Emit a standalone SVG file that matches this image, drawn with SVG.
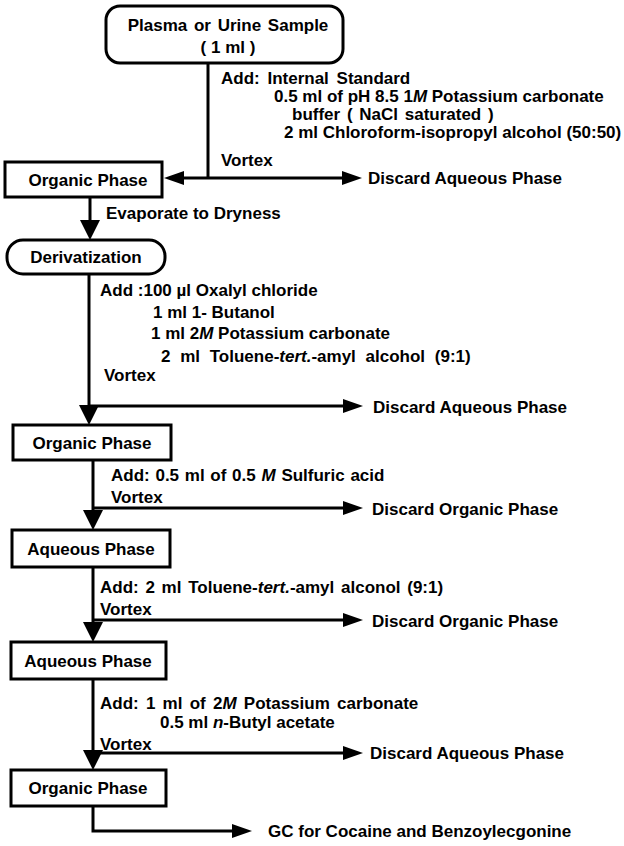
<svg xmlns="http://www.w3.org/2000/svg" width="624" height="846" viewBox="0 0 624 846">
<defs>
<style>
text{font-family:"Liberation Sans",Arial,Helvetica,sans-serif;font-size:17px;font-weight:bold;fill:#000}
.box{fill:#fff;stroke:#000;stroke-width:3}
.ln{fill:none;stroke:#000;stroke-width:3}
.c{text-anchor:middle}
.i{font-style:italic}
</style>
<marker id="ah" viewBox="0 0 20 14" refX="0" refY="7" markerWidth="20" markerHeight="14" markerUnits="userSpaceOnUse" orient="auto"><path d="M0,0 L20,7 L0,14 Z" fill="#000"/></marker>
<marker id="ad" viewBox="0 0 20 20" refX="0" refY="10" markerWidth="20" markerHeight="20" markerUnits="userSpaceOnUse" orient="auto"><path d="M0,0 L20,10 L0,20 Z" fill="#000"/></marker>
</defs>
<rect width="624" height="846" fill="#fff"/>
<g id="connectors">
<path class="ln" d="M208,63 V178"/>
<path class="ln" d="M208,178 H184" marker-end="url(#ah)"/>
<path class="ln" d="M208,178 H342" marker-end="url(#ah)"/>
<path class="ln" d="M90,197 V220" marker-end="url(#ad)"/>
<path class="ln" d="M89,274 V405" marker-end="url(#ad)"/>
<path class="ln" d="M89,406 H343" marker-end="url(#ah)"/>
<path class="ln" d="M93,460 V510" marker-end="url(#ad)"/>
<path class="ln" d="M93,508 H343" marker-end="url(#ah)"/>
<path class="ln" d="M93,567 V622" marker-end="url(#ad)"/>
<path class="ln" d="M93,620 H343" marker-end="url(#ah)"/>
<path class="ln" d="M93,679 V750" marker-end="url(#ad)"/>
<path class="ln" d="M93,753 H343" marker-end="url(#ah)"/>
<path class="ln" d="M93,806 V831 H232" marker-end="url(#ah)"/>
</g>
<g id="sample">
<rect class="box" x="106" y="6" width="237" height="57" rx="14"/>
<text class="c" x="228" y="31" word-spacing="2">Plasma or Urine Sample</text>
<text class="c" x="228" y="53">( 1 ml )</text>
</g>
<g id="step1-label">
<text x="221" y="84" word-spacing="3">Add: Internal Standard</text>
<text x="274" y="102">0.5 ml of pH 8.5 1<tspan class="i">M</tspan> Potassium carbonate</text>
<text x="292" y="120" word-spacing="2">buffer  ( NaCl saturated )</text>
<text x="284" y="138">2 ml Chloroform-isopropyl alcohol (50:50)</text>
<text x="221" y="166">Vortex</text>
</g>
<g id="discard1"><text x="368" y="184">Discard Aqueous Phase</text></g>
<g id="organic1">
<rect class="box" x="5" y="162" width="157" height="35"/>
<text class="c" x="88" y="186">Organic Phase</text>
</g>
<g id="evap-label"><text x="106" y="219">Evaporate to Dryness</text></g>
<g id="derivatization">
<rect class="box" x="7" y="240" width="158" height="34" rx="16"/>
<text class="c" x="86" y="263">Derivatization</text>
</g>
<g id="step2-label">
<text x="100" y="296">Add :100 µl Oxalyl chloride</text>
<text x="153" y="318">1 ml 1- Butanol</text>
<text x="151" y="339">1 ml 2<tspan class="i">M</tspan> Potassium carbonate</text>
<text x="161" y="362" word-spacing="5">2 ml Toluene-<tspan class="i">tert.</tspan>-amyl alcohol (9:1)</text>
<text x="104" y="381">Vortex</text>
</g>
<g id="discard2"><text x="373" y="413">Discard Aqueous Phase</text></g>
<g id="organic2">
<rect class="box" x="13" y="425" width="158" height="35"/>
<text class="c" x="92" y="449">Organic Phase</text>
</g>
<g id="step3-label">
<text x="111" y="481" word-spacing="1">Add: 0.5 ml of 0.5 <tspan class="i">M</tspan> Sulfuric acid</text>
<text x="111" y="503">Vortex</text>
</g>
<g id="discard3"><text x="372" y="515">Discard Organic Phase</text></g>
<g id="aqueous1">
<rect class="box" x="12" y="530" width="158" height="37"/>
<text class="c" x="91" y="555">Aqueous Phase</text>
</g>
<g id="step4-label">
<text x="100" y="593" word-spacing="2">Add: 2 ml Toluene-<tspan class="i">tert.</tspan>-amyl alconol (9:1)</text>
<text x="100" y="615">Vortex</text>
</g>
<g id="discard4"><text x="372" y="627">Discard Organic Phase</text></g>
<g id="aqueous2">
<rect class="box" x="11" y="642" width="155" height="37"/>
<text class="c" x="88" y="667">Aqueous Phase</text>
</g>
<g id="step5-label">
<text x="100" y="709" word-spacing="2.5">Add: 1 ml of 2<tspan class="i">M</tspan>  Potassium carbonate</text>
<text x="160" y="728">0.5 ml <tspan class="i">n</tspan>-Butyl acetate</text>
<text x="100" y="750">Vortex</text>
</g>
<g id="discard5"><text x="370" y="759">Discard Aqueous Phase</text></g>
<g id="organic3">
<rect class="box" x="11" y="770" width="155" height="36"/>
<text class="c" x="88" y="794">Organic Phase</text>
</g>
<g id="gc"><text x="268" y="837">GC for Cocaine and Benzoylecgonine</text></g>
</svg>
